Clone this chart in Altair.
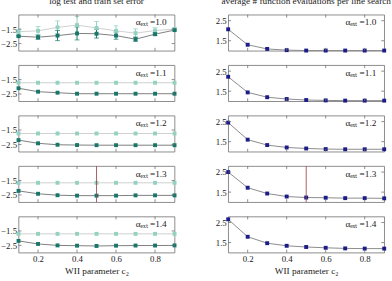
import altair as alt
import pandas as pd

c2_values = [0.1, 0.2, 0.3, 0.4, 0.5, 0.6, 0.7, 0.8, 0.9]
alpha_labels = ["1.0", "1.1", "1.2", "1.3", "1.4"]
x_ticks = [0.2, 0.4, 0.6, 0.8]
err_ticks = [-1.5, -2.5]
eval_ticks = [1.5, 2.5]

# mean log test error, one row per alpha_ext
test_error = [
    [-1.68, -1.62, -1.38, -1.22, -1.42, -1.62, -1.78, -1.60, -1.50],
    [-1.72, -1.72, -1.72, -1.72, -1.72, -1.72, -1.72, -1.72, -1.72],
    [-1.74, -1.74, -1.74, -1.74, -1.74, -1.74, -1.74, -1.74, -1.74],
    [-1.66, -1.66, -1.66, -1.66, -1.66, -1.66, -1.66, -1.66, -1.66],
    [-1.70, -1.70, -1.70, -1.70, -1.70, -1.70, -1.70, -1.70, -1.70],
]
# mean log train error, one row per alpha_ext
train_error = [
    [-1.99, -2.06, -1.95, -1.80, -1.82, -1.95, -2.20, -1.85, -1.57],
    [-2.10, -2.34, -2.41, -2.48, -2.48, -2.48, -2.48, -2.48, -2.48],
    [-2.20, -2.42, -2.52, -2.54, -2.55, -2.55, -2.55, -2.55, -2.55],
    [-2.22, -2.42, -2.52, -2.55, -2.55, -2.55, -2.53, -2.53, -2.53],
    [-2.19, -2.40, -2.50, -2.52, -2.54, -2.52, -2.51, -2.51, -2.50],
]
# spread over runs, shown as error bars for alpha_ext = 1.0
test_spread = [0.15, 0.30, 0.45, 0.60, 0.45, 0.35, 0.30, 0.20, 0.10]
train_spread = [0.05, 0.15, 0.35, 0.45, 0.30, 0.25, 0.15, 0.10, 0.05]

# average number of function evaluations per line search
evaluations = [
    [2.07, 1.30, 1.09, 1.03, 1.01, 1.01, 1.01, 1.01, 1.01],
    [2.22, 1.44, 1.20, 1.11, 1.06, 1.04, 1.03, 1.03, 1.03],
    [2.45, 1.60, 1.33, 1.21, 1.16, 1.13, 1.12, 1.12, 1.12],
    [2.50, 1.72, 1.43, 1.28, 1.23, 1.22, 1.20, 1.20, 1.19],
    [2.66, 1.79, 1.47, 1.34, 1.28, 1.24, 1.21, 1.20, 1.20],
]

# c2 chosen for alpha_ext = 1.3
selected_alpha = 3
selected_c2 = 0.5

W, H = 160, 37
FONT = "Liberation Serif"
FRAME = "#6e6e6e"
TEXT = "#1a1a1a"
LIGHT = "#93d1c1"
DARK = "#17776b"
NAVY = "#1c1c88"

x_scale = alt.Scale(domain=[0.1, 0.9], nice=False, zero=False)
err_scale = alt.Scale(domain=[-3.0, -0.5], nice=False, zero=False)
eval_scale = alt.Scale(domain=[1.0, 2.8], nice=False, zero=False)


def x_axis(bottom):
    if bottom:
        return alt.Axis(values=x_ticks, format=".1f", ticks=False, domain=False,
                        grid=False, labelPadding=2, title="WII parameter c₂",
                        titlePadding=2, titleFontWeight="normal")
    return None


def y_axis(values):
    return alt.Axis(values=values, format=".1f", ticks=False, domain=False,
                    grid=False, labelPadding=2, title=None,
                    minExtent=17, maxExtent=17)


def inner_ticks(xa, scale, ya, yvalues):
    xt = alt.Chart(pd.DataFrame({"t": x_ticks}))
    yt = alt.Chart(pd.DataFrame({"t": yvalues}))
    rule = dict(color=FRAME, strokeWidth=0.8)
    xx = alt.X("t:Q", scale=x_scale, axis=xa)
    yy = alt.Y("t:Q", scale=scale, axis=ya)
    return [
        xt.mark_rule(**rule).encode(x=xx, y=alt.value(0), y2=alt.value(3)),
        xt.mark_rule(**rule).encode(x=xx, y=alt.value(H - 3), y2=alt.value(H)),
        yt.mark_rule(**rule).encode(y=yy, x=alt.value(0), x2=alt.value(3)),
        yt.mark_rule(**rule).encode(y=yy, x=alt.value(W - 3), x2=alt.value(W)),
    ]


def alpha_text(i):
    return alt.Chart(pd.DataFrame({"label": ["αₑₓₜ =" + alpha_labels[i]]})).mark_text(
        align="right", baseline="middle", font=FONT, fontSize=9.5, color=TEXT
    ).encode(x=alt.value(W - 8), y=alt.value(8), text="label:N")


def heading(text):
    return alt.Chart(pd.DataFrame({"label": [text]})).mark_text(
        align="center", baseline="alphabetic", font=FONT, fontSize=9.5, color=TEXT
    ).encode(x=alt.value(W / 2), y=alt.value(-10.5), text="label:N")


def selection_rule(xa):
    return alt.Chart(pd.DataFrame({"c2": [selected_c2]})).mark_rule(
        color="#9c4a4a", strokeWidth=0.9
    ).encode(x=alt.X("c2:Q", scale=x_scale, axis=xa))


def error_panel(i):
    bottom = i == len(alpha_labels) - 1
    xa = x_axis(bottom)
    ya = y_axis(err_ticks)
    series = []
    for vals, spread in ((test_error[i], test_spread), (train_error[i], train_spread)):
        s = spread if i == 0 else [0.0] * len(c2_values)
        series.append(pd.DataFrame({
            "c2": c2_values, "value": vals,
            "lo": [v - d for v, d in zip(vals, s)],
            "hi": [v + d for v, d in zip(vals, s)],
        }))
    test_df, train_df = series
    x = alt.X("c2:Q", scale=x_scale, axis=xa)
    y = alt.Y("value:Q", scale=err_scale, axis=ya)
    layers = [
        alt.Chart(test_df).mark_line(color="#cfcfcf", strokeWidth=1).encode(x=x, y=y),
        alt.Chart(train_df).mark_line(color="#7c7c7c", strokeWidth=1).encode(x=x, y=y),
    ]
    if i == 0:
        for df, col in ((test_df, LIGHT), (train_df, DARK)):
            ey = alt.Y("lo:Q", scale=err_scale, axis=ya)
            layers.append(alt.Chart(df).mark_rule(color=col, strokeWidth=1).encode(
                x=x, y=ey, y2="hi:Q"))
            for end in ("lo", "hi"):
                layers.append(alt.Chart(df).mark_tick(
                    color=col, orient="horizontal", size=5, thickness=1
                ).encode(x=x, y=alt.Y(f"{end}:Q", scale=err_scale, axis=ya)))
    layers += [
        alt.Chart(test_df).mark_point(shape="square", filled=True, size=16,
                                      color=LIGHT, opacity=1).encode(x=x, y=y),
        alt.Chart(train_df).mark_point(shape="square", filled=True, size=16,
                                       color=DARK, opacity=1).encode(x=x, y=y),
    ]
    if i == selected_alpha:
        layers.append(selection_rule(xa))
    layers += inner_ticks(xa, err_scale, ya, err_ticks)
    layers.append(alpha_text(i))
    if i == 0:
        layers.append(heading("log test and train set error"))
    return alt.layer(*layers).properties(width=W, height=H)


def eval_panel(i):
    bottom = i == len(alpha_labels) - 1
    xa = x_axis(bottom)
    ya = y_axis(eval_ticks)
    df = pd.DataFrame({"c2": c2_values, "value": evaluations[i]})
    x = alt.X("c2:Q", scale=x_scale, axis=xa)
    y = alt.Y("value:Q", scale=eval_scale, axis=ya)
    layers = [
        alt.Chart(df).mark_line(color="#8a8a8a", strokeWidth=1).encode(x=x, y=y),
        alt.Chart(df).mark_point(shape="square", filled=True, size=16,
                                 color=NAVY, opacity=1).encode(x=x, y=y),
    ]
    if i == selected_alpha:
        layers.append(selection_rule(xa))
    layers += inner_ticks(xa, eval_scale, ya, eval_ticks)
    layers.append(alpha_text(i))
    if i == 0:
        layers.append(heading("average # function evaluations per line search"))
    return alt.layer(*layers).properties(width=W, height=H)


left = alt.vconcat(*[error_panel(i) for i in range(len(alpha_labels))],
                   spacing=14.75, bounds="flush")
right = alt.vconcat(*[eval_panel(i) for i in range(len(alpha_labels))],
                    spacing=14.75, bounds="flush")

chart = alt.hconcat(left, right, spacing=34).properties(
    padding={"top": -7.5, "left": 0, "right": 0, "bottom": 0}
).configure_view(
    stroke=FRAME, strokeWidth=0.8
).configure_axis(
    labelFont=FONT, labelFontSize=9, labelColor=TEXT,
    titleFont=FONT, titleFontSize=9.5, titleColor=TEXT,
)

chart.save("out.html", embed_options={"renderer": "svg", "actions": False})
